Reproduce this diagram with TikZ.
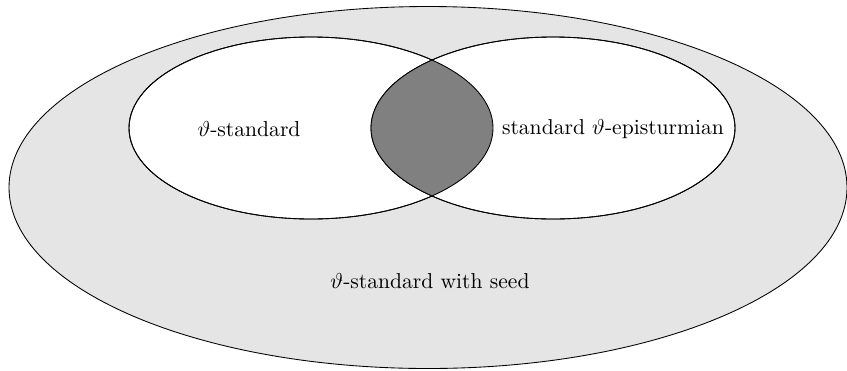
\documentclass[tikz,border=0pt]{standalone}
\usepackage{amssymb, amsmath}
\usepackage{tikz}
\usetikzlibrary{positioning}

\begin{document}
\begin{tikzpicture}[x=0.463pt,y=-0.463pt]
                \useasboundingbox (0,0) rectangle (847,370);
                \filldraw[color=black, fill=black!10] (428,187.5) ellipse (419 and 181);
                \filldraw[color=black, fill=white] (311,128) ellipse (182 and 91);
                \filldraw[color=black, fill=white] (553,128) ellipse (182 and 91);
                \begin{scope}
                    \clip (311,128) ellipse (182 and 91);
                    \fill[black!50] (553,128) ellipse (182 and 91);
                \end{scope}
                \draw (311,128) ellipse (182 and 91);
                \draw (553,128) ellipse (182 and 91);
                \node (std) at (249,129) {$\vartheta$-standard};
                \node (epi) at (613,129) {standard $\vartheta$-episturmian};
                \node (seed) at (430,281) {$\vartheta$-standard with seed};
            \end{tikzpicture}
\end{document}
